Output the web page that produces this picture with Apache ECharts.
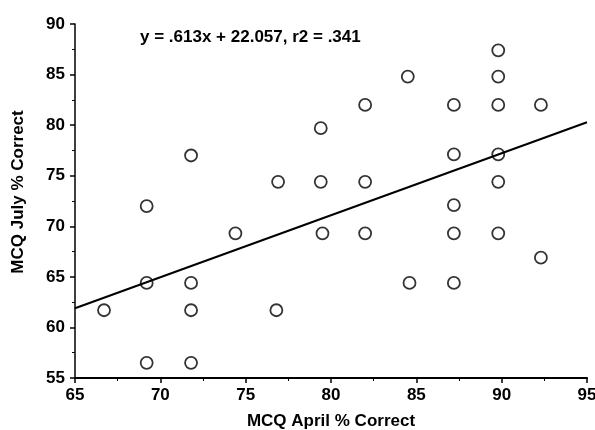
<!DOCTYPE html>
<html><head><meta charset="utf-8">
<script src="https://cdn.jsdelivr.net/npm/echarts@6/dist/echarts.min.js"></script>
<style>html,body{margin:0;padding:0;background:#fff}#c{width:595px;height:430px}</style>
</head><body><div id="c"></div>
<script>
const aprilScores = [89.8, 84.5, 89.8, 82.0, 87.2, 89.8, 92.3, 79.4, 71.8, 87.2, 89.8, 76.9, 79.4, 82.0, 89.8, 69.2, 87.2, 74.4, 79.5, 82.0, 87.2, 89.8, 92.3, 69.2, 71.8, 84.6, 87.2, 66.7, 71.8, 76.8, 69.2, 71.8];
const julyScores  = [87.4, 84.8, 84.8, 82.0, 82.0, 82.0, 82.0, 79.7, 77.0, 77.1, 77.1, 74.4, 74.4, 74.4, 74.4, 72.0, 72.1, 69.3, 69.3, 69.3, 69.3, 69.3, 66.9, 64.4, 64.4, 64.4, 64.4, 61.7, 61.7, 61.7, 56.5, 56.5];
const slope = 0.613, intercept = 22.057, r2 = 0.341;
const fitRange = [65, 95];
const xTicks = [65, 70, 75, 80, 85, 90, 95];
const yTicks = [55, 60, 65, 70, 75, 80, 85, 90];

const pts = aprilScores.map((x, i) => [x, julyScores[i]]);
const fitLine = fitRange.map(x => [x, slope * x + intercept]);
const font = 'Liberation Sans, Arial, sans-serif';

const chart = echarts.init(document.getElementById('c'));
chart.setOption({
  animation: false,
  grid: {left: 75, right: 8, top: 24, bottom: 52, containLabel: false, outerBoundsMode: 'none'},
  title: {
    text: 'y = .613x + 22.057, r2 = .341',
    left: 135, top: 24,
    textStyle: {fontFamily: font, fontWeight: 'bold', fontSize: 17, color: '#000'}
  },
  xAxis: {
    type: 'value', min: xTicks[0], max: xTicks[xTicks.length - 1], interval: 5,
    name: 'MCQ April % Correct', nameLocation: 'middle', nameGap: 35,
    nameTextStyle: {fontFamily: font, fontWeight: 'bold', fontSize: 17, color: '#000'},
    axisLine: {lineStyle: {color: '#000', width: 2}},
    axisTick: {length: 5, lineStyle: {color: '#000', width: 1.5}},
    minorTick: {show: true, splitNumber: 2, length: 3, lineStyle: {color: '#000'}},
    axisLabel: {fontFamily: font, fontWeight: 'bold', fontSize: 17, color: '#000', margin: 9},
    splitLine: {show: false}
  },
  yAxis: {
    type: 'value', min: yTicks[0], max: yTicks[yTicks.length - 1], interval: 5,
    name: 'MCQ July % Correct', nameLocation: 'middle', nameGap: 48,
    nameTextStyle: {fontFamily: font, fontWeight: 'bold', fontSize: 17, color: '#000', padding: [0, 0, 0, 18]},
    axisLine: {show: true, lineStyle: {color: '#000', width: 1.5}},
    axisTick: {show: true, length: 5, lineStyle: {color: '#000', width: 1.5}},
    minorTick: {show: true, splitNumber: 2, length: 3, lineStyle: {color: '#000'}},
    axisLabel: {fontFamily: font, fontWeight: 'bold', fontSize: 17, color: '#000', margin: 10},
    splitLine: {show: false}
  },
  series: [
    {
      type: 'scatter', data: pts, symbol: 'circle', symbolSize: 12,
      itemStyle: {color: 'rgba(255,255,255,0)', borderColor: '#000', borderWidth: 1.8},
      z: 3
    },
    {
      type: 'line', data: fitLine, symbol: 'none',
      lineStyle: {color: '#000', width: 2}, z: 2
    }
  ]
});
</script></body></html>
